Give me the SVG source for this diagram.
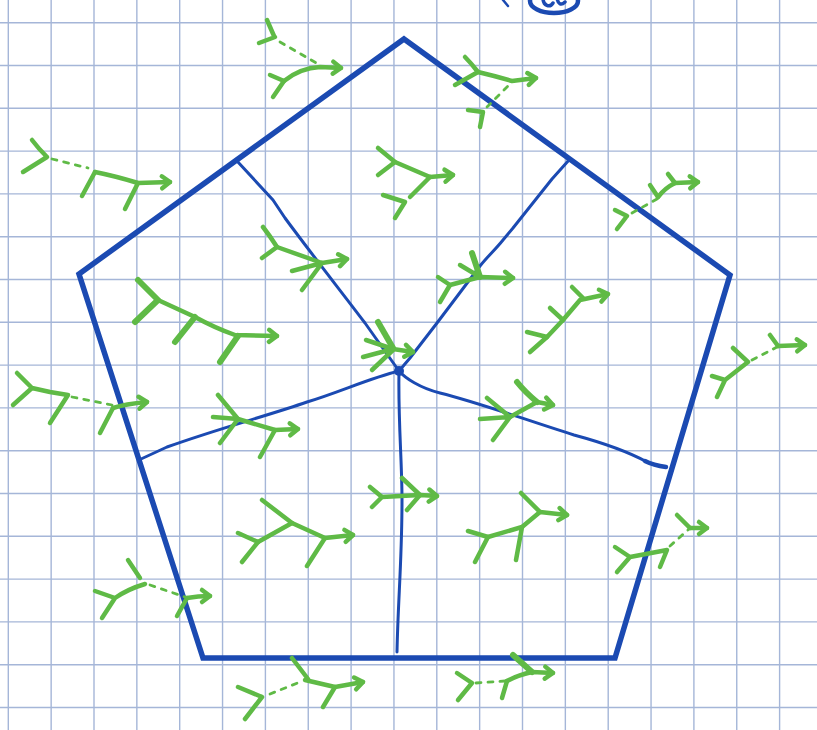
<svg xmlns="http://www.w3.org/2000/svg" width="817" height="730" viewBox="0 0 817 730">
<defs>
<style>
.grid{stroke:#a5b6d8;stroke-width:1.4;fill:none}
.pent{stroke:#1b4ab2;stroke-width:5.5;fill:none;stroke-linejoin:miter}
.cut{stroke:#1b4ab2;stroke-width:3;fill:none;stroke-linecap:round;stroke-linejoin:round}
.tr{stroke:#5fba46;stroke-width:4.5;fill:none;stroke-linecap:round;stroke-linejoin:round}
.tk{stroke-width:6}
.st{stroke:#5fba46;stroke-width:4.5;fill:none;stroke-linecap:round;stroke-linejoin:round;marker-end:url(#ah)}
.ds{stroke:#5fba46;stroke-width:2.8;fill:none;stroke-dasharray:5 7;stroke-linecap:round}
</style>
<marker id="ah" markerUnits="userSpaceOnUse" markerWidth="24" markerHeight="24" refX="12" refY="12" orient="auto" overflow="visible">
<path d="M4,6 L12,12 L4,18" fill="none" stroke="#5fba46" stroke-width="4.5" stroke-linecap="round" stroke-linejoin="round"/>
</marker>
</defs>
<rect width="817" height="730" fill="#ffffff"/>
<g id="grid" class="grid">
<path d="M8.3,0V730M51.15,0V730M94,0V730M136.85,0V730M179.7,0V730M222.55,0V730M265.4,0V730M308.25,0V730M351.1,0V730M393.95,0V730M436.8,0V730M479.65,0V730M522.5,0V730M565.35,0V730M608.2,0V730M651.05,0V730M693.9,0V730M736.75,0V730M779.6,0V730"/>
<path d="M0,22.7H817M0,65.5H817M0,108.3H817M0,151.1H817M0,193.9H817M0,236.7H817M0,279.5H817M0,322.3H817M0,365.1H817M0,407.9H817M0,450.7H817M0,493.5H817M0,536.3H817M0,579.1H817M0,621.9H817M0,664.7H817M0,707.5H817"/>
</g>
<g id="pentagon">
<polygon class="pent" points="404,39 730,275 615,658 203,658 79,274"/>
</g>
<g id="cuts">
<path class="cut" d="M237,161 L273,200 L285,218 C310,252 340,290 365,323 L399,371"/>
<path class="cut" d="M569,160 L552,179 L513,228 L503,240 C495,250 488,256 480,266 L437,323 L410,358 L399,371"/>
<path class="cut" d="M399,371 C398,420 402,460 402,500 C402,560 398,600 397,652"/>
<path class="cut" d="M141,459 L167,447 C220,428 270,415 307,402 C340,392 370,378 399,371"/>
<path class="cut" d="M399,371 C405,378 420,388 440,393 C480,403 520,418 574,435 C600,442 625,450 647,462"/>
<path class="cut" style="stroke-width:4.5" d="M645,461 C653,465 659,466 666,467"/>
<circle cx="399" cy="371" r="5" fill="#1b4ab2"/>
</g>
<g id="scribble" class="cut" style="stroke-width:4.5">
<ellipse cx="554" cy="1" rx="24" ry="12"/>
<path style="stroke-width:3.5" d="M543,-2 C543,6 550,8 553,3 M557,-2 C558,4 561,6 565,2"/>
<path style="stroke-width:2.5" d="M503,0 L508,6"/>
</g>
<g id="tree-1">
<path class="tr" d="M267,20 L274,36 M275,37 L259,43 M270,75 L284,81 M284,81 L273,97"/>
<path class="ds" d="M280,42 L318,64"/>
<path class="st" d="M284,81 Q300,68 320,67 L341,68"/>
</g>
<g id="tree-2">
<path class="tr" d="M465,57 Q471,63 478,72 M478,72 L455,85 M468,110 L483,112 M483,112 L480,127"/>
<path class="ds" d="M487,107 L510,84"/>
<path class="st" d="M478,72 Q495,76 512,81 L536,78"/>
</g>
<g id="tree-3">
<path class="tr" d="M32,140 Q38,148 47,157 M47,157 L23,172 M82,196 L95,172 M138,183 L125,209"/>
<path class="ds" d="M52,159 L88,168"/>
<path class="st" d="M95,172 Q115,176 138,183 L170,182"/>
</g>
<g id="tree-4">
<path class="tr tk" d="M138,280 L158,300 M158,300 L135,322 M195,317 L175,342 M238,336 L220,362"/>
<path class="st" d="M158,300 L195,317 Q215,328 235,335 L277,336"/>
</g>
<g id="tree-5">
<path class="tr" d="M263,227 Q270,236 277,247 M277,247 L262,258 M322,263 L292,271 M322,263 L302,290"/>
<path class="st" d="M277,247 L322,263 L347,259"/>
</g>
<g id="tree-6">
<path class="tr" d="M366,340 L393,349 M363,357 L393,349 M372,370 L393,350"/>
<path class="tr tk" d="M378,322 L393,348"/>
<path class="st" d="M393,349 L413,352"/>
</g>
<g id="tree-7">
<path class="tr" d="M378,148 L395,162 M395,162 L378,175 M430,177 L410,197 M383,195 L405,202 M405,202 L395,218"/>
<path class="st" d="M395,162 L430,177 L453,175"/>
</g>
<g id="tree-8">
<path class="tr" d="M438,277 L450,285 M450,285 L440,302 M460,265 L480,277"/>
<path class="tr tk" d="M472,253 L480,277"/>
<path class="st" d="M450,285 L480,277 L513,278"/>
</g>
<g id="tree-9">
<path class="tr" d="M527,332 L547,337 M547,337 L530,352 M550,308 L563,320 M572,287 L583,298"/>
<path class="st" d="M547,337 L563,320 L580,300 L608,294"/>
</g>
<g id="tree-10">
<path class="tr" d="M615,210 L627,216 M627,216 L617,229 M650,185 L658,197 M668,174 L675,183"/>
<path class="ds" d="M632,213 L657,199"/>
<path class="st" d="M658,197 Q665,188 675,183 L698,182"/>
</g>
<g id="tree-11">
<path class="tr" d="M17,373 L32,388 M32,388 L13,405 M32,388 L50,392 L68,395 M68,395 L50,423 M113,408 L100,433"/>
<path class="ds" d="M72,397 L112,405"/>
<path class="st" d="M113,408 Q125,404 147,402"/>
</g>
<g id="tree-12">
<path class="tr" d="M218,395 L238,419 M213,417 L238,419 M238,419 L220,443 M275,430 L260,457"/>
<path class="st" d="M238,419 L275,430 L298,429"/>
</g>
<g id="tree-13">
<path class="tr" d="M487,398 L510,417 M480,419 L510,417 M510,417 L493,440"/>
<path class="tr tk" d="M517,382 Q525,392 537,402"/>
<path class="st" d="M510,417 L537,402 L553,405"/>
</g>
<g id="tree-14">
<path class="tr" d="M370,487 L382,497 M382,497 L372,507 M402,478 L420,495 M420,495 L407,510"/>
<path class="st" d="M382,497 L420,495 L437,496"/>
</g>
<g id="tree-15">
<path class="tr" d="M468,531 L488,537 M488,537 L475,562 M522,527 L516,560 M521,493 L540,512"/>
<path class="st" d="M488,537 L522,527 L540,512 L567,515"/>
</g>
<g id="tree-16">
<path class="tr" d="M615,547 L630,557 M630,557 L617,572 M630,557 L667,550 M667,550 L660,567 M677,515 L690,528"/>
<path class="ds" d="M670,546 L689,529"/>
<path class="st" d="M690,528 L707,528"/>
</g>
<g id="tree-17">
<path class="tr" d="M712,376 L725,380 M725,380 L717,397 M725,380 L748,362 M733,348 L748,362 M770,335 L778,346"/>
<path class="ds" d="M752,360 L777,347"/>
<path class="st" d="M778,346 L805,345"/>
</g>
<g id="tree-18">
<path class="tr" d="M238,533 L258,542 M258,542 L242,562 M262,500 L292,523 M325,538 L307,566"/>
<path class="st" d="M258,542 L292,523 L325,538 L353,535"/>
</g>
<g id="tree-19">
<path class="tr" d="M95,591 L115,598 M115,598 L102,618 M115,598 Q128,589 145,584 M128,560 L140,578 M187,598 L177,616"/>
<path class="ds" d="M150,585 L185,597"/>
<path class="st" d="M187,598 Q198,596 210,596"/>
</g>
<g id="tree-20">
<path class="tr" d="M238,687 L262,697 M262,697 L245,719 M292,658 L308,679 M335,687 L323,707"/>
<path class="ds" d="M270,694 L300,682"/>
<path class="st" d="M305,680 L335,687 L363,682"/>
</g>
<g id="tree-21">
<path class="tr" d="M457,673 L472,683 M472,683 L458,700 M507,681 L502,698"/>
<path class="tr tk" d="M513,655 L532,672"/>
<path class="ds" d="M476,683 L505,681"/>
<path class="st" d="M507,681 Q518,675 532,672 L553,673"/>
</g>
</svg>
